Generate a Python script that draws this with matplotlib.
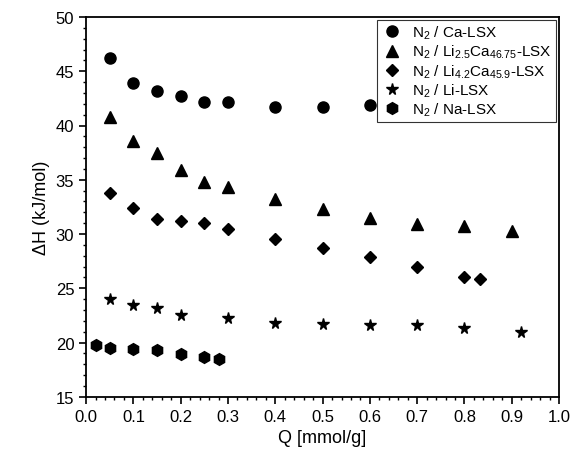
import matplotlib
matplotlib.use('Agg')
import matplotlib.pyplot as plt
from matplotlib.ticker import MultipleLocator

plt.rcParams['font.family'] = ['Liberation Sans', 'DejaVu Sans']
plt.rcParams['mathtext.default'] = 'regular'

# data
q_ca = [0.05, 0.1, 0.15, 0.2, 0.25, 0.3, 0.4, 0.5, 0.6]
h_ca = [46.2, 43.9, 43.2, 42.7, 42.15, 42.15, 41.75, 41.75, 41.85]

q_li25 = [0.05, 0.1, 0.15, 0.2, 0.25, 0.3, 0.4, 0.5, 0.6, 0.7, 0.8, 0.9]
h_li25 = [40.75, 38.55, 37.45, 35.9, 34.8, 34.3, 33.2, 32.3, 31.45, 30.95, 30.75, 30.3]

q_li42 = [0.05, 0.1, 0.15, 0.2, 0.25, 0.3, 0.4, 0.5, 0.6, 0.7, 0.8, 0.832]
h_li42 = [33.75, 32.4, 31.4, 31.2, 31.0, 30.45, 29.5, 28.7, 27.85, 26.97, 26.08, 25.85]

q_li = [0.05, 0.1, 0.15, 0.2, 0.3, 0.4, 0.5, 0.6, 0.7, 0.8, 0.92]
h_li = [24.05, 23.45, 23.17, 22.55, 22.28, 21.8, 21.72, 21.66, 21.63, 21.33, 21.0]

q_na = [0.02, 0.05, 0.1, 0.15, 0.2, 0.25, 0.281]
h_na = [19.8, 19.55, 19.4, 19.35, 18.95, 18.65, 18.5]

fig = plt.figure(figsize=(5.74, 4.6), dpi=100)
ax = fig.add_axes([0.150, 0.135, 0.824, 0.826])

ax.plot(q_ca, h_ca, 'o', color='black', ms=8, label=r'N$_2$ / Ca-LSX')
ax.plot(q_li25, h_li25, '^', color='black', ms=8.5, label=r'N$_2$ / Li$_{2.5}$Ca$_{46.75}$-LSX')
ax.plot(q_li42, h_li42, 'D', color='black', ms=6.5, label=r'N$_2$ / Li$_{4.2}$Ca$_{45.9}$-LSX')
ax.plot(q_li, h_li, '*', color='black', ms=8.5, label=r'N$_2$ / Li-LSX')
ax.plot(q_na, h_na, 'h', color='black', ms=8.5, label=r'N$_2$ / Na-LSX')

ax.set_xlim(0, 1.0)
ax.set_ylim(15, 50)
ax.xaxis.set_major_locator(MultipleLocator(0.1))
ax.xaxis.set_minor_locator(MultipleLocator(0.02))
ax.yaxis.set_major_locator(MultipleLocator(5))
ax.yaxis.set_minor_locator(MultipleLocator(1))
ax.tick_params(which='major', direction='out', length=5, width=1.2, labelsize=12)
ax.tick_params(which='minor', direction='out', length=2.5, width=1.0)
for s in ax.spines.values():
    s.set_linewidth(1.3)

ax.set_xlabel('Q [mmol/g]', fontsize=13)
ax.set_ylabel('\u0394H (kJ/mol)', fontsize=13)

leg = ax.legend(loc='upper right', fontsize=11, frameon=True, fancybox=False,
                edgecolor='black', handletextpad=0.6, borderaxespad=0.2,
                labelspacing=0.12, handlelength=1.5, borderpad=0.25)
leg.get_frame().set_linewidth(0.8)

fig.savefig('out.png', dpi=100)
